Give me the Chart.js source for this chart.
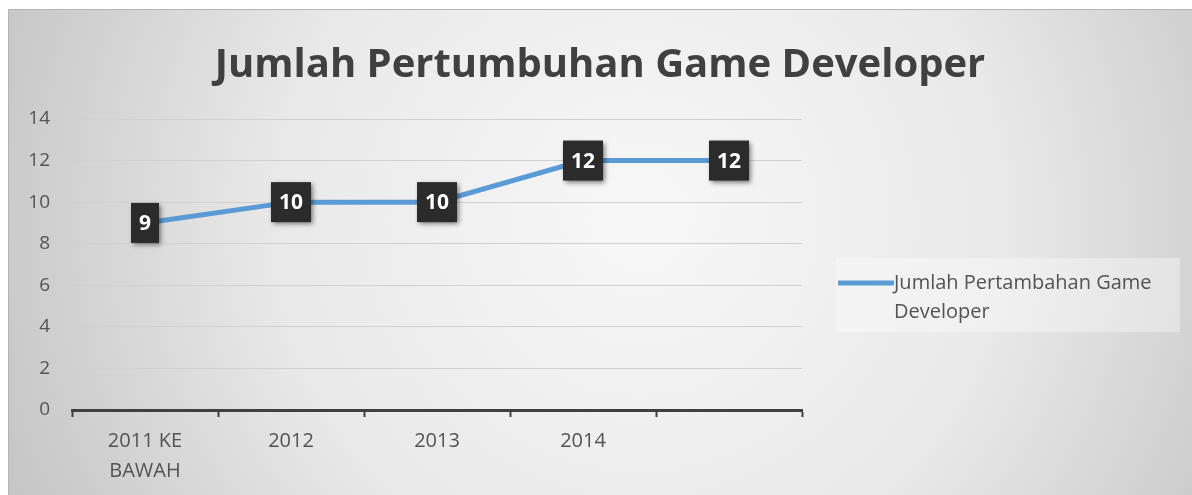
<!DOCTYPE html>
<html>
<head>
<meta charset="utf-8">
<script src="https://cdn.jsdelivr.net/npm/chart.js@4.4.1/dist/chart.umd.min.js"></script>
<style>
  html, body { margin: 0; padding: 0; background: #ffffff; overflow: hidden; }
  #wrap { position: absolute; left: 0; top: 0; width: 1192px; height: 495px; }
  canvas { display: block; }
</style>
</head>
<body>
<div id="wrap"><canvas id="chart" width="1192" height="495"></canvas></div>
<script>
// Chart content
const chartTitle = 'Jumlah Pertumbuhan Game Developer';
const seriesName = 'Jumlah Pertambahan Game Developer';
const legendLines = ['Jumlah Pertambahan Game', 'Developer'];
const categories = [['2011 KE', 'BAWAH'], '2012', '2013', '2014', ''];
const developerCounts = [9, 10, 10, 12, 12];
const yMin = 0;
const yMax = 14;
const yStep = 2;

const FONT = '"Open Sans", Lato, sans-serif';
const LINE_COLOR = '#5b9bd5';
const TEXT_COLOR = '#535353';

// Grey framed backdrop with a soft light centre, title and legend
const backdrop = {
  id: 'backdrop',
  beforeDraw(chart) {
    const ctx = chart.ctx;
    ctx.save();
    ctx.fillStyle = '#ffffff';
    ctx.fillRect(0, 0, chart.width, chart.height);
    const g = ctx.createRadialGradient(640, 220, 40, 640, 220, 760);
    g.addColorStop(0, '#f6f6f6');
    g.addColorStop(0.45, '#e9e9e9');
    g.addColorStop(1, '#bdbdbd');
    ctx.fillStyle = g;
    ctx.fillRect(8, 9, chart.width - 8, chart.height - 9);
    ctx.strokeStyle = '#b5b5b5';
    ctx.lineWidth = 1;
    ctx.beginPath();
    ctx.moveTo(8.5, chart.height);
    ctx.lineTo(8.5, 9.5);
    ctx.lineTo(chart.width, 9.5);
    ctx.stroke();

    // title
    ctx.fillStyle = '#404040';
    ctx.font = 'bold 40px ' + FONT;
    ctx.textAlign = 'center';
    ctx.textBaseline = 'alphabetic';
    ctx.fillText(chartTitle, 600, 77);

    // legend panel
    ctx.fillStyle = 'rgba(255,255,255,0.35)';
    ctx.fillRect(836, 258, 344, 74);
    ctx.strokeStyle = LINE_COLOR;
    ctx.lineWidth = 5;
    ctx.beginPath();
    ctx.moveTo(838, 283);
    ctx.lineTo(894, 283);
    ctx.stroke();
    ctx.fillStyle = TEXT_COLOR;
    ctx.font = '20px ' + FONT;
    ctx.textAlign = 'left';
    ctx.textBaseline = 'middle';
    ctx.fillText(legendLines[0], 894, 283);
    ctx.fillText(legendLines[1], 894, 312);
    ctx.restore();
  }
};

// Dark value boxes over each point
const valueBoxes = {
  id: 'valueBoxes',
  afterDatasetsDraw(chart) {
    const ctx = chart.ctx;
    const meta = chart.getDatasetMeta(0);
    const data = chart.data.datasets[0].data;
    ctx.save();
    ctx.font = 'bold 21px ' + FONT;
    ctx.textAlign = 'center';
    ctx.textBaseline = 'middle';
    meta.data.forEach((pt, i) => {
      const txt = String(data[i]);
      const w = ctx.measureText(txt).width + 16;
      const h = 40;
      ctx.save();
      ctx.shadowColor = 'rgba(0,0,0,0.55)';
      ctx.shadowBlur = 5;
      ctx.shadowOffsetX = 2;
      ctx.shadowOffsetY = 2;
      ctx.fillStyle = '#2b2b2b';
      ctx.fillRect(pt.x - w / 2, pt.y - h / 2, w, h);
      ctx.restore();
      ctx.fillStyle = '#ffffff';
      ctx.fillText(txt, pt.x, pt.y + 1);
    });
    ctx.restore();
  }
};

new Chart(document.getElementById('chart'), {
  type: 'line',
  data: {
    labels: categories,
    datasets: [{
      label: seriesName,
      data: developerCounts,
      borderColor: LINE_COLOR,
      backgroundColor: LINE_COLOR,
      borderWidth: 5,
      pointRadius: 0,
      tension: 0,
      fill: false
    }]
  },
  options: {
    responsive: false,
    animation: false,
    events: [],
    layout: { padding: { left: 0, top: 119, right: 390, bottom: 0 } },
    plugins: {
      legend: { display: false },
      title: { display: false },
      tooltip: { enabled: false }
    },
    scales: {
      x: {
        offset: true,
        grid: {
          offset: true,
          drawOnChartArea: false,
          drawTicks: true,
          tickLength: 7,
          tickColor: '#404040',
          tickWidth: 2
        },
        border: { color: '#404040', width: 3 },
        ticks: {
          color: TEXT_COLOR,
          padding: 9,
          font: { family: FONT, size: 20, lineHeight: 1.5 },
          maxRotation: 0,
          autoSkip: false
        },
        afterFit(scale) { scale.height = 85; }
      },
      y: {
        min: yMin,
        max: yMax,
        ticks: {
          stepSize: yStep,
          color: TEXT_COLOR,
          padding: 22,
          font: { family: FONT, size: 19 }
        },
        grid: { color: '#d0d0d0', drawTicks: false, lineWidth: 1 },
        border: { display: false },
        afterFit(scale) { scale.width = 72; }
      }
    }
  },
  plugins: [backdrop, valueBoxes]
});
</script>
</body>
</html>
